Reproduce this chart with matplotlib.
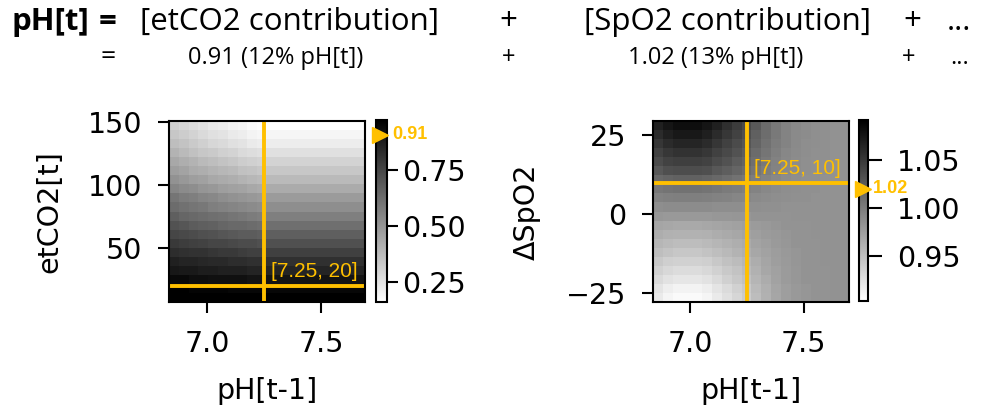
import numpy as np
import matplotlib
matplotlib.use("Agg")
import matplotlib.pyplot as plt
from matplotlib import font_manager
import matplotlib.transforms as mtransforms

# ---------------- data ----------------
# left panel: etCO2 contribution, rows = etCO2 (low -> high), cols = pH[t-1] (low -> high)
etco2_contrib = [
    [0.98,0.98,0.98,0.98,0.97,0.97,0.97,0.97,0.97,0.97,0.97,0.97,0.97,0.97,0.97,0.97,0.97,0.97,0.97,0.97],
    [0.97,0.97,0.96,0.96,0.96,0.96,0.95,0.95,0.95,0.95,0.95,0.95,0.95,0.95,0.95,0.95,0.95,0.95,0.95,0.95],
    [0.94,0.94,0.93,0.93,0.92,0.92,0.92,0.92,0.91,0.91,0.91,0.91,0.91,0.91,0.91,0.91,0.91,0.91,0.91,0.91],
    [0.90,0.89,0.89,0.88,0.88,0.87,0.87,0.87,0.86,0.86,0.86,0.86,0.86,0.86,0.86,0.86,0.86,0.86,0.86,0.86],
    [0.87,0.86,0.86,0.85,0.84,0.84,0.83,0.83,0.82,0.82,0.82,0.82,0.82,0.82,0.82,0.82,0.82,0.82,0.82,0.82],
    [0.83,0.82,0.81,0.81,0.80,0.79,0.79,0.78,0.77,0.77,0.77,0.77,0.77,0.77,0.77,0.77,0.77,0.77,0.77,0.77],
    [0.79,0.78,0.77,0.76,0.75,0.75,0.74,0.73,0.73,0.72,0.72,0.72,0.72,0.72,0.72,0.72,0.72,0.72,0.72,0.72],
    [0.75,0.74,0.73,0.72,0.71,0.70,0.69,0.68,0.68,0.67,0.67,0.67,0.67,0.67,0.67,0.67,0.67,0.67,0.67,0.67],
    [0.71,0.70,0.68,0.67,0.66,0.65,0.64,0.64,0.63,0.62,0.62,0.62,0.62,0.62,0.62,0.62,0.62,0.62,0.62,0.62],
    [0.67,0.65,0.64,0.63,0.62,0.61,0.60,0.59,0.58,0.57,0.57,0.57,0.57,0.57,0.57,0.57,0.57,0.57,0.57,0.57],
    [0.63,0.61,0.60,0.59,0.57,0.56,0.55,0.54,0.53,0.52,0.52,0.52,0.52,0.52,0.52,0.52,0.52,0.52,0.52,0.52],
    [0.60,0.58,0.57,0.55,0.54,0.52,0.51,0.50,0.49,0.48,0.48,0.48,0.48,0.48,0.48,0.48,0.48,0.48,0.48,0.48],
    [0.55,0.53,0.52,0.50,0.49,0.47,0.46,0.45,0.44,0.43,0.43,0.43,0.43,0.43,0.43,0.43,0.43,0.43,0.43,0.43],
    [0.51,0.49,0.47,0.46,0.44,0.43,0.42,0.40,0.39,0.38,0.38,0.38,0.38,0.38,0.38,0.38,0.38,0.38,0.38,0.38],
    [0.47,0.45,0.43,0.42,0.40,0.39,0.38,0.36,0.35,0.34,0.34,0.34,0.34,0.34,0.34,0.34,0.34,0.34,0.34,0.34],
    [0.44,0.42,0.40,0.38,0.37,0.35,0.34,0.32,0.31,0.30,0.30,0.30,0.30,0.30,0.30,0.30,0.30,0.30,0.30,0.30],
    [0.40,0.38,0.36,0.34,0.33,0.31,0.30,0.28,0.27,0.26,0.26,0.26,0.26,0.26,0.26,0.26,0.26,0.26,0.26,0.26],
    [0.37,0.35,0.33,0.31,0.29,0.28,0.26,0.25,0.23,0.22,0.22,0.22,0.22,0.22,0.22,0.22,0.22,0.22,0.22,0.22],
    [0.34,0.32,0.30,0.28,0.26,0.25,0.23,0.22,0.20,0.19,0.19,0.19,0.19,0.19,0.19,0.19,0.19,0.19,0.19,0.19],
    [0.31,0.29,0.27,0.25,0.23,0.22,0.20,0.19,0.17,0.16,0.16,0.16,0.16,0.16,0.16,0.16,0.16,0.16,0.16,0.16],
]

# right panel: SpO2 contribution, rows = dSpO2 (low -> high), cols = pH[t-1] (low -> high)
spo2_contrib = [
    [0.919,0.911,0.907,0.907,0.907,0.911,0.919,0.926,0.934,0.942,0.952,0.961,0.969,0.975,0.979,0.981,0.982,0.983,0.984,0.984],
    [0.923,0.916,0.912,0.912,0.912,0.916,0.923,0.930,0.937,0.944,0.954,0.962,0.970,0.975,0.979,0.981,0.983,0.983,0.984,0.984],
    [0.931,0.925,0.922,0.922,0.922,0.925,0.931,0.938,0.944,0.950,0.958,0.965,0.972,0.977,0.980,0.982,0.983,0.983,0.984,0.984],
    [0.937,0.932,0.929,0.929,0.929,0.932,0.937,0.943,0.948,0.954,0.961,0.968,0.973,0.977,0.980,0.982,0.983,0.983,0.984,0.984],
    [0.944,0.939,0.937,0.937,0.937,0.939,0.944,0.949,0.953,0.958,0.964,0.970,0.975,0.978,0.981,0.982,0.983,0.984,0.984,0.984],
    [0.951,0.947,0.945,0.945,0.945,0.947,0.951,0.955,0.959,0.963,0.968,0.972,0.976,0.979,0.981,0.982,0.983,0.984,0.984,0.984],
    [0.957,0.954,0.952,0.952,0.952,0.954,0.957,0.960,0.963,0.966,0.971,0.974,0.978,0.980,0.982,0.983,0.983,0.984,0.984,0.984],
    [0.964,0.961,0.960,0.960,0.960,0.961,0.964,0.966,0.968,0.971,0.974,0.977,0.979,0.981,0.982,0.983,0.984,0.984,0.984,0.984],
    [0.970,0.968,0.967,0.967,0.967,0.968,0.970,0.971,0.973,0.975,0.977,0.979,0.981,0.982,0.983,0.983,0.984,0.984,0.984,0.984],
    [0.980,0.979,0.979,0.979,0.979,0.979,0.980,0.980,0.981,0.981,0.982,0.982,0.983,0.983,0.984,0.984,0.984,0.984,0.984,0.984],
    [0.987,0.988,0.988,0.988,0.988,0.988,0.987,0.987,0.987,0.986,0.986,0.985,0.985,0.984,0.984,0.984,0.984,0.984,0.984,0.984],
    [0.996,0.997,0.998,0.998,0.998,0.997,0.996,0.995,0.993,0.992,0.990,0.988,0.987,0.986,0.985,0.985,0.984,0.984,0.984,0.984],
    [1.004,1.006,1.007,1.007,1.007,1.006,1.004,1.001,0.999,0.997,0.994,0.991,0.989,0.987,0.986,0.985,0.985,0.984,0.984,0.984],
    [1.015,1.018,1.020,1.020,1.020,1.018,1.015,1.011,1.007,1.004,0.999,0.995,0.991,0.988,0.987,0.985,0.985,0.984,0.984,0.984],
    [1.027,1.033,1.035,1.035,1.035,1.033,1.027,1.022,1.017,1.012,1.005,0.999,0.994,0.990,0.988,0.986,0.985,0.985,0.984,0.984],
    [1.036,1.042,1.045,1.045,1.045,1.042,1.036,1.030,1.024,1.018,1.010,1.002,0.996,0.991,0.988,0.986,0.985,0.985,0.984,0.984],
    [1.044,1.051,1.054,1.054,1.054,1.051,1.044,1.037,1.030,1.023,1.013,1.005,0.998,0.992,0.989,0.987,0.985,0.985,0.984,0.984],
    [1.052,1.060,1.064,1.064,1.064,1.060,1.052,1.044,1.036,1.028,1.018,1.008,1.000,0.994,0.990,0.987,0.986,0.985,0.984,0.984],
    [1.060,1.069,1.073,1.073,1.073,1.069,1.060,1.051,1.042,1.033,1.021,1.011,1.002,0.995,0.990,0.988,0.986,0.985,0.984,0.984],
    [1.067,1.076,1.081,1.081,1.081,1.076,1.067,1.057,1.047,1.037,1.025,1.013,1.003,0.996,0.991,0.988,0.986,0.985,0.984,0.984],
]

# selected point and contribution values
ph_sel = 7.25
etco2_sel = 20
spo2_sel = 10
etco2_value = 0.91
spo2_value = 1.02
etco2_pct = 12
spo2_pct = 13

# ---------------- fonts ----------------
avail = {f.name for f in font_manager.fontManager.ttflist}
head_font = "Liberation Sans Narrow" if "Liberation Sans Narrow" in avail else "Open Sans"
arial = "Liberation Sans"

plt.rcParams["font.family"] = ["DejaVu Sans"]
plt.rcParams["font.size"] = 20.5

ORANGE = "#FFC000"

fig = plt.figure(figsize=(9.81, 4.09), dpi=100)
W, H = 981, 409


def rect(x0, y0, x1, y1):
    return [x0 / W, 1 - y1 / H, (x1 - x0) / W, (y1 - y0) / H]


def panel(ax_rect, cax_rect, data, extent, vmin, vmax, yticks, ylabel,
          ysel, val, cticks, lbl, cb_len, cb_pad, ylabelpad):
    ax = fig.add_axes(ax_rect)
    im = ax.imshow(np.array(data), cmap="gray_r", origin="lower", aspect="auto",
                   extent=extent, vmin=vmin, vmax=vmax, interpolation="nearest")
    ax.set_xticks([7.0, 7.5])
    ax.set_yticks(yticks)
    ax.set_xlabel("pH[t-1]", labelpad=13)
    ax.set_ylabel(ylabel, labelpad=ylabelpad)
    for s in ax.spines.values():
        s.set_linewidth(1.5)
    ax.tick_params(axis="x", width=1.5, length=8, pad=12.5)
    ax.tick_params(axis="y", width=1.5, length=8, pad=11)
    ax.axvline(ph_sel, color=ORANGE, lw=2.8)
    ax.axhline(ysel, color=ORANGE, lw=2.8)
    tr = mtransforms.blended_transform_factory(ax.transAxes, ax.transData)
    ax.annotate(lbl, xy=(0.96, ysel), xycoords=tr, xytext=(0, 3.5),
                textcoords="offset points", ha="right", va="bottom",
                color=ORANGE, fontsize=15, family=arial)
    cax = fig.add_axes(cax_rect)
    cb = fig.colorbar(im, cax=cax, ticks=cticks, format="%.2f")
    cb.outline.set_linewidth(1.5)
    cax.tick_params(width=1.5, length=cb_len, pad=cb_pad)
    ctr = mtransforms.blended_transform_factory(cax.transAxes, cax.transData)
    cax.plot([0.4], [val], marker=">", color=ORANGE, markersize=11,
             transform=ctr, clip_on=False, zorder=5)
    cax.text(1.5, val, f"{val:.2f}", transform=ctr, color=ORANGE,
             fontsize=13, fontweight="bold", family=arial,
             ha="left", va="center", zorder=6)
    return ax


panel(rect(169, 121, 365, 302), rect(376, 120, 387, 302), etco2_contrib,
      [6.835, 7.69, 7.0, 151.0], 0.16, 0.975, [50, 100, 150], "etCO2[t]",
      etco2_sel, etco2_value, [0.25, 0.50, 0.75], f"[{ph_sel}, {etco2_sel}]",
      8, 3, 18)
panel(rect(653, 121, 849, 302), rect(859, 120, 868, 301), spo2_contrib,
      [6.838, 7.70, -27.7, 29.5], 0.903, 1.092, [-25, 0, 25], "ΔSpO2",
      spo2_sel, spo2_value, [0.95, 1.00, 1.05], f"[{ph_sel}, {spo2_sel}]",
      10, 11, 18)

# ---------------- header ----------------
y1 = 1 - 22 / H
y2 = 1 - 58 / H
hs1, hs2 = 22.5, 17
fig.text(12 / W, y1, "pH[t]", family=head_font, fontsize=hs1, fontweight="bold",
         ha="left", va="center")
fig.text(108 / W, y1, "=", family=head_font, fontsize=hs1, fontweight="bold",
         ha="center", va="center")
fig.text(290 / W, y1, "[etCO2 contribution]", family=head_font, fontsize=hs1,
         ha="center", va="center")
fig.text(508 / W, y1, "+", family=head_font, fontsize=hs1, ha="center", va="center")
fig.text(727 / W, y1, "[SpO2 contribution]", family=head_font, fontsize=hs1,
         ha="center", va="center")
fig.text(912 / W, y1, "+", family=head_font, fontsize=hs1, ha="center", va="center")
fig.text(959 / W, y1, "...", family=head_font, fontsize=hs1, ha="center", va="center")

fig.text(108 / W, y2, "=", family=head_font, fontsize=hs2 + 2, ha="center", va="center")
fig.text(276 / W, y2, f"{etco2_value:.2f} ({etco2_pct}% pH[t])", family=head_font,
         fontsize=hs2, ha="center", va="center")
fig.text(509 / W, y2, "+", family=head_font, fontsize=hs2, ha="center", va="center")
fig.text(716 / W, y2, f"{spo2_value:.2f} ({spo2_pct}% pH[t])", family=head_font,
         fontsize=hs2, ha="center", va="center")
fig.text(909 / W, y2, "+", family=head_font, fontsize=hs2, ha="center", va="center")
fig.text(960 / W, y2, "...", family=head_font, fontsize=hs2, ha="center", va="center")

fig.savefig("out.png", dpi=100)
